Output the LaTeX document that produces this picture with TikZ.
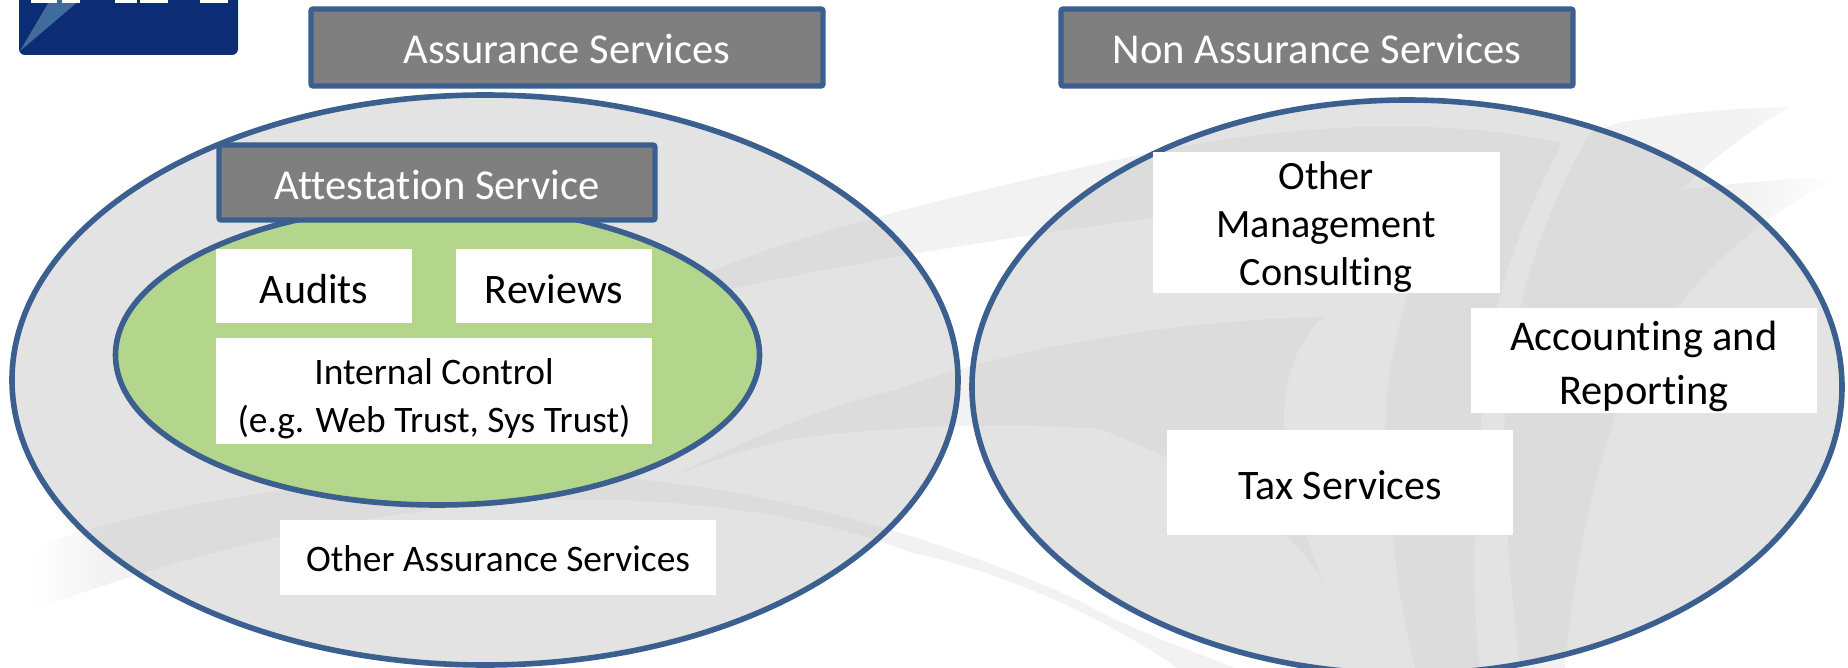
\documentclass[tikz,border=0pt]{standalone}
\usepackage{fontspec}
\setmainfont[Ligatures=NoCommon]{Carlito}
\usetikzlibrary{shapes.geometric,positioning}
\definecolor{framecol}{HTML}{3B5F8E}
\definecolor{greycol}{HTML}{7F7F7F}
\definecolor{greencol}{HTML}{AFD685}
\definecolor{swooshcol}{HTML}{F2F2F2}
\definecolor{ovalcol}{HTML}{CBCBCB}
\definecolor{logocol}{HTML}{0C2C76}
\definecolor{logolight}{HTML}{3F6C9B}
\pgfdeclarehorizontalshading{fadeeast}{100bp}{color(0bp)=(swooshcol); color(61bp)=(swooshcol); color(75bp)=(white); color(100bp)=(white)}
\pgfdeclarehorizontalshading{fadewest}{100bp}{color(0bp)=(white); color(25bp)=(white); color(28bp)=(swooshcol); color(100bp)=(swooshcol)}
\tikzset{
  bigoval/.style={ellipse,draw=framecol,line width=2.8pt,fill=ovalcol,fill opacity=0.54,text opacity=1},
  greenoval/.style={ellipse,draw=framecol,line width=2.8pt,fill=greencol,fill opacity=0.92},
  titlebox/.style={rectangle,draw=framecol,line width=2.6pt,rounded corners=1pt,fill=greycol,text=white,
    font=\fontsize{21.3}{25}\selectfont,inner sep=0pt},
  itembox/.style={rectangle,fill=white,text=black,align=center,inner sep=0pt,
    font=\fontsize{21}{24}\selectfont},
  smallbox/.style={itembox,font=\fontsize{18.7}{23.7}\selectfont},
  swoosh/.style={fill=swooshcol,draw=none}
}

\begin{document}
\begin{tikzpicture}[x=0.5pt,y=-0.5pt]

\clip (0,0) rectangle (1848,668);

\fill[logocol,rounded corners=3pt] (19,-20) rectangle (238,55);
\fill[logolight] (20,51) -- (50,0) -- (80,0) -- cycle;
\fill[white] (31,0) rectangle (57,3);
\fill[white] (62,0) rectangle (80,3);
\fill[white] (115,0) rectangle (137,3);
\fill[white] (140,0) rectangle (168,3);
\fill[white] (200,0) rectangle (228,3);

\fill[swoosh] (640,310) .. controls (697,263) and (870,212) .. (1153,152)
  .. controls (1300,122) and (1450,118) .. (1562,143)
  .. controls (1510,240) and (1482,340) .. (1482,410)
  .. controls (1475,500) and (1470,590) .. (1480,668)
  -- (1415,668) .. controls (1395,590) and (1385,480) .. (1386,410)
  .. controls (1390,340) and (1410,290) .. (1435,200)
  .. controls (1330,195) and (1240,205) .. (1153,218)
  .. controls (1000,238) and (800,270) .. (640,310) -- cycle;
\shade[shading=fadeeast] (1590,133) -- (1618,123) .. controls (1680,112) and (1740,108) .. (1790,107)
  .. controls (1750,130) and (1710,160) .. (1681,190)
  .. controls (1740,182) and (1800,178) .. (1840,177)
  .. controls (1750,220) and (1660,300) .. (1615,417)
  .. controls (1590,490) and (1572,580) .. (1565,668) -- (1520,668)
  .. controls (1510,580) and (1502,490) .. (1505,415)
  .. controls (1510,310) and (1545,210) .. (1590,133) -- cycle;
\shade[shading=fadewest] (33,547) .. controls (140,510) and (290,480) .. (497,473)
  .. controls (700,470) and (900,520) .. (1078,600)
  .. controls (1130,630) and (1190,650) .. (1235,668)
  -- (1177,668) .. controls (1110,620) and (1000,570) .. (912,553)
  .. controls (780,500) and (600,495) .. (514,502)
  .. controls (330,515) and (170,560) .. (33,610) -- cycle;
\fill[swoosh] (672,478) .. controls (760,430) and (850,400) .. (896,390)
  .. controls (1000,350) and (1170,320) .. (1324,317)
  .. controls (1290,345) and (1280,400) .. (1285,440)
  .. controls (1290,490) and (1305,540) .. (1324,582)
  .. controls (1270,500) and (1200,470) .. (1100,429)
  .. controls (980,420) and (850,430) .. (788,440)
  .. controls (740,450) and (700,465) .. (672,478) -- cycle;

\node[bigoval,minimum width=473pt,minimum height=285pt] (assuranceoval) at (485,380) {};
\node[bigoval,minimum width=435pt,minimum height=287pt] (nonassuranceoval) at (1407,387) {};
\node[greenoval,minimum width=322pt,minimum height=150pt] (attestationoval) at (437.5,355) {};

\node[titlebox,text height=15.8pt,minimum width=256pt,minimum height=38.5pt] (assurance) at (567,47.5) {Assurance Services};
\node[titlebox,text height=15.8pt,minimum width=256pt,minimum height=38.5pt] (nonassurance) at (1317,47.5) {Non Assurance Services};
\node[titlebox,text height=17pt,minimum width=218pt,minimum height=37.5pt] (attestation) at (437,182.5) {Attestation Service};

\node[itembox,text height=17.7pt,minimum width=98pt,minimum height=37pt] (audits) at (314,286) {Audits};
\node[itembox,text height=17.7pt,minimum width=98pt,minimum height=37pt] (reviews) at (554,286) {Reviews};
\node[smallbox,text height=44.3pt,minimum width=218pt,minimum height=52.5pt] (internal) at (434,391) {Internal Control\\(e.g. Web Trust, Sys Trust)};
\node[smallbox,text height=14.3pt,minimum width=218pt,minimum height=37.5pt] (otherassurance) at (498,557.5) {Other Assurance Services};
\node[itembox,text height=66.7pt,minimum width=173.5pt,minimum height=70.5pt,font=\fontsize{20.1}{24}\selectfont] (consulting) at (1326,222.5) {Other\\Management\\Consulting};
\node[itembox,text height=47.6pt,minimum width=173pt,minimum height=52.5pt,font=\fontsize{21.2}{27}\selectfont] (accounting) at (1644,360.5) {Accounting and\\Reporting};
\node[itembox,text height=17pt,minimum width=173pt,minimum height=52.5pt] (tax) at (1340,482.5) {Tax Services};
\end{tikzpicture}
\end{document}
